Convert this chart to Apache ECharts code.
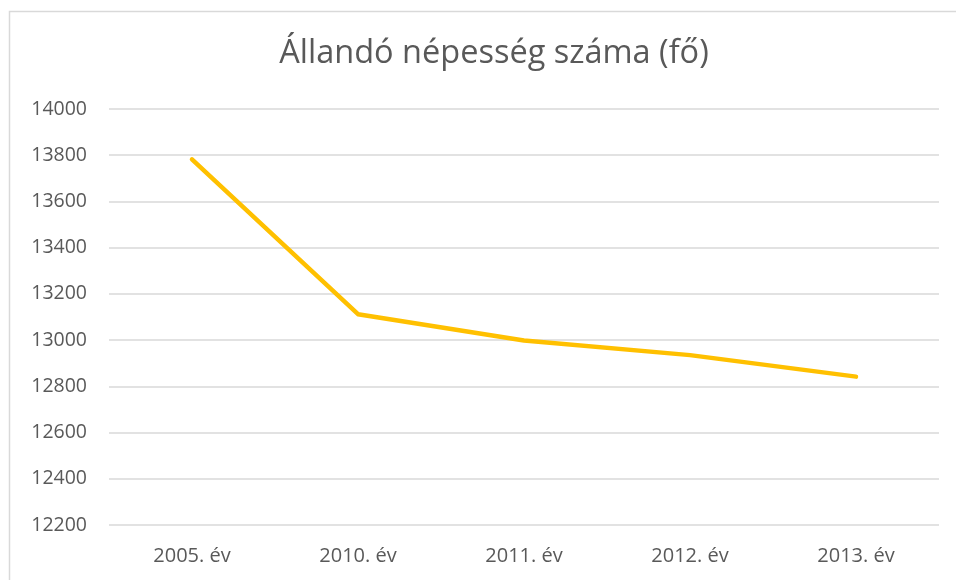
<!DOCTYPE html>
<html>
<head>
<meta charset="utf-8">
<script src="https://cdn.jsdelivr.net/npm/echarts@6/dist/echarts.min.js"></script>
<style>
  html, body { margin: 0; padding: 0; background: #fff; }
  #main { width: 956px; height: 580px; }
</style>
</head>
<body>
<div id="main"></div>
<script>
  // adatok
  var chartTitle = 'Állandó népesség száma (fő)';
  var years = ['2005. év', '2010. év', '2011. év', '2012. év', '2013. év'];
  var population = [13782, 13112, 12998, 12935, 12842];
  var yMin = 12200, yMax = 14000, yStep = 200;

  var font = 'Open Sans';
  var myChart = echarts.init(document.getElementById('main'));
  var option = {
    backgroundColor: '#fff',
    animation: false,
    graphic: [{
      type: 'rect',
      shape: { x: 9.5, y: 11.5, width: 1000, height: 1000 },
      style: { fill: 'none', stroke: '#d9d9d9', lineWidth: 1.5 },
      silent: true
    }],
    title: {
      text: chartTitle,
      left: 489,
      textAlign: 'center',
      top: 32,
      textStyle: {
        color: '#595959',
        fontSize: 32.5,
        fontWeight: 'normal',
        fontFamily: font
      }
    },
    grid: {
      left: 109,
      right: 17,
      top: 109,
      bottom: 55
    },
    xAxis: {
      type: 'category',
      data: years,
      boundaryGap: true,
      axisLine: { show: false },
      axisTick: { show: false },
      axisLabel: {
        color: '#595959',
        fontSize: 20,
        fontFamily: font,
        margin: 21
      }
    },
    yAxis: {
      type: 'value',
      min: yMin,
      max: yMax,
      interval: yStep,
      axisLine: { show: false },
      axisTick: { show: false },
      axisLabel: {
        color: '#595959',
        fontSize: 19.5,
        fontFamily: font,
        margin: 22,
        formatter: function (v) { return String(v); }
      },
      splitLine: { lineStyle: { color: '#d9d9d9', width: 1.5 } }
    },
    series: [{
      type: 'line',
      data: population,
      symbol: 'none',
      lineStyle: { color: '#FFC000', width: 4.5, cap: 'round', join: 'round' },
      itemStyle: { color: '#FFC000' }
    }]
  };
  myChart.setOption(option);
</script>
</body>
</html>
